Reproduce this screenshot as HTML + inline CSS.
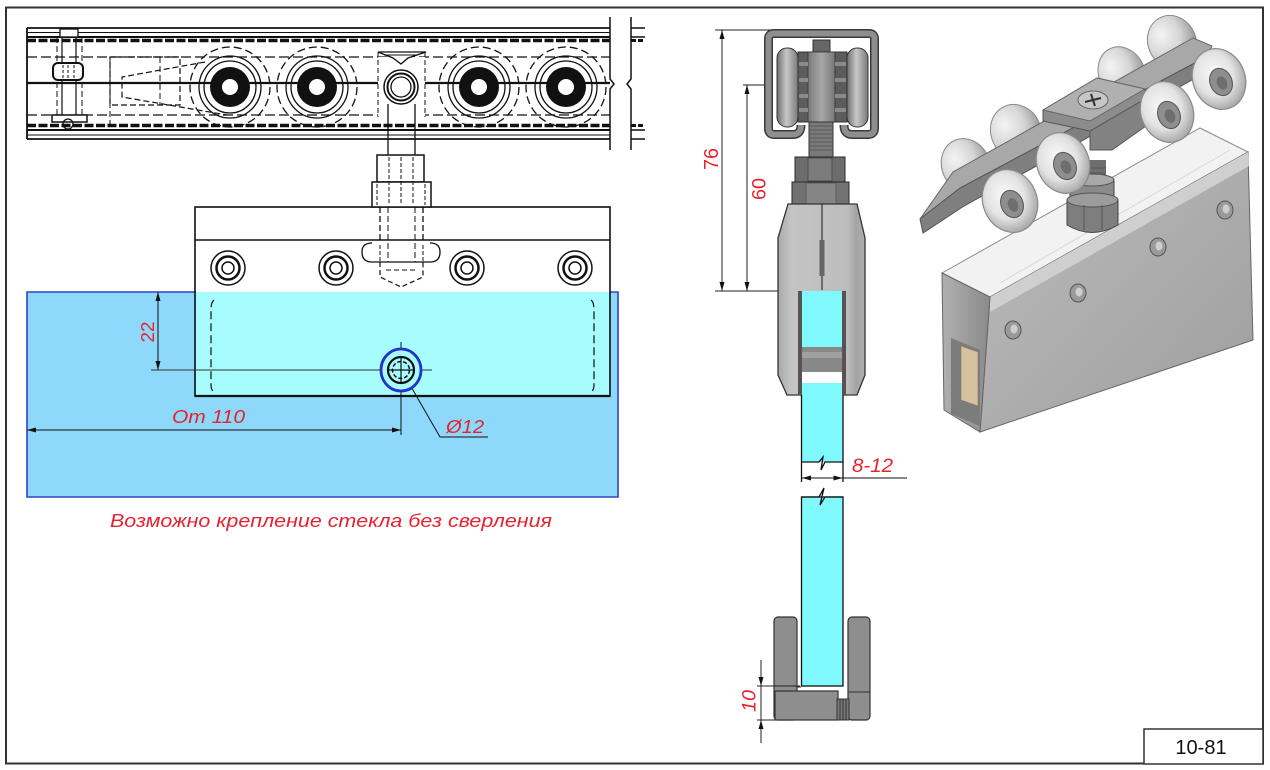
<!DOCTYPE html>
<html><head><meta charset="utf-8"><style>
html,body{margin:0;padding:0;background:#fff;}
svg{display:block;}
</style></head><body>
<svg width="1270" height="770" viewBox="0 0 1270 770" xmlns="http://www.w3.org/2000/svg">
<defs>
<radialGradient id="wheelG" cx="45%" cy="40%" r="60%">
<stop offset="0" stop-color="#fafafa"/><stop offset="0.6" stop-color="#e2e2e2"/><stop offset="1" stop-color="#a8a8a8"/>
</radialGradient>
<radialGradient id="backG" cx="35%" cy="30%" r="70%">
<stop offset="0" stop-color="#f4f4f4"/><stop offset="0.55" stop-color="#d6d6d6"/><stop offset="1" stop-color="#9a9a9a"/>
</radialGradient>
<linearGradient id="capG" x1="0" y1="0" x2="1" y2="0">
<stop offset="0" stop-color="#6e6e6e"/><stop offset="0.45" stop-color="#c8c8c8"/><stop offset="1" stop-color="#7a7a7a"/>
</linearGradient>
<linearGradient id="rollG" x1="0" y1="0" x2="1" y2="0">
<stop offset="0" stop-color="#7a7a7a"/><stop offset="0.5" stop-color="#a8a8a8"/><stop offset="1" stop-color="#777"/>
</linearGradient>
<linearGradient id="clampG" x1="0" y1="0" x2="1" y2="0">
<stop offset="0" stop-color="#a8a8a8"/><stop offset="0.15" stop-color="#c4c4c4"/><stop offset="0.8" stop-color="#bdbdbd"/><stop offset="0.9" stop-color="#a4a4a4"/><stop offset="1" stop-color="#b0b0b0"/>
</linearGradient>
<linearGradient id="frontG" x1="0" y1="0" x2="1" y2="1">
<stop offset="0" stop-color="#bcbcbc"/><stop offset="1" stop-color="#9e9e9e"/>
</linearGradient>
<linearGradient id="endG" x1="0" y1="0" x2="1" y2="0">
<stop offset="0" stop-color="#b0b0b0"/><stop offset="1" stop-color="#8a8a8a"/>
</linearGradient>
</defs>
<rect width="1270" height="770" fill="#fff"/>
<rect x="6" y="7.5" width="1257" height="756" fill="none" stroke="#333" stroke-width="2"/>

<!-- ============ LEFT: RAIL ============ -->
<g fill="none" stroke="#111">
<line x1="27" y1="28" x2="610" y2="28" stroke-width="1.8"/>
<line x1="27" y1="32.5" x2="610" y2="32.5" stroke-width="1"/>
<line x1="27" y1="37" x2="610" y2="37" stroke-width="2"/>
<line x1="27" y1="40.5" x2="610" y2="40.5" stroke-width="3.5" stroke-dasharray="9 2.5"/>
<line x1="27" y1="57" x2="610" y2="57" stroke-width="1.3" stroke-dasharray="10 4"/>
<line x1="27" y1="83" x2="610" y2="83" stroke-width="2.2"/>
<line x1="27" y1="115" x2="610" y2="115" stroke-width="1.3" stroke-dasharray="10 4"/>
<line x1="27" y1="125.5" x2="610" y2="125.5" stroke-width="3.5" stroke-dasharray="9 2.5"/>
<line x1="27" y1="130" x2="610" y2="130" stroke-width="2"/>
<line x1="27" y1="135" x2="610" y2="135" stroke-width="1"/>
<line x1="27" y1="139" x2="610" y2="139" stroke-width="1.8"/>
<line x1="27" y1="28" x2="27" y2="139" stroke-width="1.8"/>
<polyline points="610,17 610,79 614,84 610,89 610,150" stroke-width="1.5"/>
<polyline points="631,17 631,79 627,84 631,89 631,150" stroke-width="1.5"/>
<line x1="631" y1="28" x2="645" y2="28" stroke-width="1.5"/>
<line x1="631" y1="37" x2="645" y2="37" stroke-width="1.5"/>
<line x1="631" y1="40.5" x2="645" y2="40.5" stroke-width="3" stroke-dasharray="5 2"/>
<line x1="631" y1="125.5" x2="645" y2="125.5" stroke-width="3" stroke-dasharray="5 2"/>
<line x1="631" y1="130" x2="645" y2="130" stroke-width="1.5"/>
<line x1="631" y1="139" x2="645" y2="139" stroke-width="1.5"/>
<rect x="60" y="29" width="18" height="8" stroke-width="1.3" fill="#fff"/>
<line x1="57" y1="37" x2="57" y2="115" stroke-dasharray="6 3"/>
<line x1="82" y1="37" x2="82" y2="115" stroke-dasharray="6 3"/>
<line x1="62" y1="37" x2="62" y2="115" stroke-width="1.2"/>
<line x1="76" y1="37" x2="76" y2="115" stroke-width="1.2"/>
<rect x="53" y="63" width="30" height="17" rx="5" stroke-width="2" fill="#fff"/>
<line x1="63" y1="65" x2="63" y2="78" stroke-dasharray="3 2"/>
<line x1="68" y1="65" x2="68" y2="78" stroke-dasharray="3 2"/>
<line x1="74" y1="65" x2="74" y2="78" stroke-dasharray="3 2"/>
<rect x="52" y="115" width="35" height="7" stroke-width="1.5" fill="#fff"/>
<circle cx="68" cy="124" r="5" stroke-width="1.3"/>
<line x1="110" y1="57" x2="110" y2="130" stroke-dasharray="6 3"/>
<rect x="110" y="57" width="70" height="48" stroke-dasharray="6 3" stroke-width="1.2"/>
<line x1="160" y1="57" x2="160" y2="105" stroke-dasharray="6 3"/>
<polyline points="205,62 122,77 122,97 227,115" stroke-dasharray="6 3" stroke-width="1.2"/>
<g stroke-width="1.3">
<circle cx="230" cy="87" r="40" stroke-dasharray="8 4"/>
<circle cx="230" cy="87" r="31"/>
<circle cx="230" cy="87" r="26"/>
<circle cx="317" cy="87" r="40" stroke-dasharray="8 4"/>
<circle cx="317" cy="87" r="31"/>
<circle cx="317" cy="87" r="26"/>
<circle cx="479" cy="87" r="40" stroke-dasharray="8 4"/>
<circle cx="479" cy="87" r="31"/>
<circle cx="479" cy="87" r="26"/>
<circle cx="566" cy="87" r="40" stroke-dasharray="8 4"/>
<circle cx="566" cy="87" r="31"/>
<circle cx="566" cy="87" r="26"/>
</g>
<g fill="#111" stroke="none">
<circle cx="230" cy="87" r="20"/><circle cx="317" cy="87" r="20"/>
<circle cx="479" cy="87" r="20"/><circle cx="566" cy="87" r="20"/>
</g>
<g fill="#fff" stroke="none">
<circle cx="230" cy="87" r="8"/><circle cx="317" cy="87" r="8"/>
<circle cx="479" cy="87" r="8"/><circle cx="566" cy="87" r="8"/>
</g>
<rect x="378" y="57" width="47" height="60" fill="#fff" stroke="none"/>
<line x1="378" y1="52" x2="378" y2="117" stroke-dasharray="5 3"/>
<line x1="425" y1="52" x2="425" y2="117" stroke-dasharray="5 3"/>
<polygon points="378,52 426,52 408,58 401,64 393,58" stroke-width="1.3" fill="#fff"/>
<line x1="384" y1="55" x2="418" y2="55" stroke-width="1"/>
<circle cx="401" cy="87" r="17" stroke-width="1.5" fill="#fff"/>
<circle cx="401" cy="87" r="13.5" stroke-width="2"/>
<circle cx="401" cy="87" r="10" stroke-width="1.3"/>
<line x1="388" y1="104" x2="388" y2="155" stroke-width="1.3"/>
<line x1="415" y1="104" x2="415" y2="155" stroke-width="1.3"/>
</g>

<!-- ============ LEFT: GLASS / BLOCK ============ -->
<rect x="27" y="292" width="591" height="205" fill="#8ed8fb"/>
<rect x="196" y="292" width="413" height="103" fill="#a7fdfe"/>
<g stroke="#2f44c4" stroke-width="1.6" fill="none">
<polyline points="196,292 27,292 27,497 618,497 618,292 610,292"/>
</g>
<g fill="none" stroke="#111">
<rect x="195" y="207" width="415" height="189" stroke-width="1.6"/>
<line x1="195" y1="240" x2="610" y2="240" stroke-width="1.6"/>
<line x1="195" y1="396" x2="610" y2="396" stroke-width="2.2"/>
<rect x="377" y="155" width="47" height="27" stroke-width="1.5" fill="#fff"/>
<rect x="372" y="182" width="59" height="25" stroke-width="1.5" fill="#fff"/>
<g stroke-dasharray="4 2" stroke-width="1">
<line x1="389" y1="157" x2="389" y2="205"/><line x1="401" y1="157" x2="401" y2="205"/><line x1="413" y1="157" x2="413" y2="205"/>
<line x1="377" y1="184" x2="377" y2="205"/><line x1="425" y1="184" x2="425" y2="205"/>
</g>
<line x1="388" y1="207" x2="388" y2="262" stroke-dasharray="6 3"/>
<line x1="415" y1="207" x2="415" y2="262" stroke-dasharray="6 3"/>
<line x1="380" y1="207" x2="380" y2="240" stroke-dasharray="6 3" stroke-width="1.3"/>
<line x1="423" y1="207" x2="423" y2="240" stroke-dasharray="6 3" stroke-width="1.3"/>
<path d="M372,243 Q362,243 362,252 Q362,262 372,262 L430,262 Q440,262 440,252 Q440,243 430,243" stroke-width="1.3"/>
<path d="M380,245 L380,262 M423,245 L423,262" stroke-dasharray="4 2"/>
<polyline points="380,262 380,277 401,287 423,277 423,262" stroke-dasharray="5 3" stroke-width="1.2"/>
<line x1="386" y1="270" x2="417" y2="270" stroke-dasharray="5 3"/>
<g stroke-width="1.5">
<circle cx="228" cy="268" r="17"/><circle cx="228" cy="268" r="11.5" stroke-width="2.5"/><circle cx="228" cy="268" r="6"/>
<circle cx="336" cy="268" r="17"/><circle cx="336" cy="268" r="11.5" stroke-width="2.5"/><circle cx="336" cy="268" r="6"/>
<circle cx="467" cy="268" r="17"/><circle cx="467" cy="268" r="11.5" stroke-width="2.5"/><circle cx="467" cy="268" r="6"/>
<circle cx="575" cy="268" r="17"/><circle cx="575" cy="268" r="11.5" stroke-width="2.5"/><circle cx="575" cy="268" r="6"/>
</g>
<path d="M214,300 Q211,302 211,310 L211,385 Q211,390 214,392" stroke-dasharray="8 4" stroke-width="1.2"/>
<path d="M591,300 Q594,302 594,310 L594,385 Q594,390 591,392" stroke-dasharray="8 4" stroke-width="1.2"/>
<line x1="158" y1="292" x2="158" y2="370" stroke-width="1"/>
<line x1="151" y1="370" x2="432" y2="370" stroke-width="1" stroke="#333"/>
<line x1="401" y1="342" x2="401" y2="435" stroke-width="1"/>
<line x1="27" y1="430" x2="401" y2="430" stroke-width="1"/>
<polyline points="406,378 440,437 488,437" stroke-width="1"/>
</g>
<ellipse cx="401" cy="370" rx="20" ry="21" fill="#a7fdfe" stroke="#2233cc" stroke-width="2.8"/>
<circle cx="401" cy="370" r="13" fill="none" stroke="#111" stroke-width="2.2"/>
<circle cx="401" cy="370" r="8.5" fill="none" stroke="#111" stroke-width="1.5" stroke-dasharray="4 2"/>
<line x1="389" y1="370" x2="413" y2="370" stroke="#111" stroke-width="1.2"/>
<line x1="401" y1="358" x2="401" y2="382" stroke="#111" stroke-width="1.2"/>
<g fill="#111">
<polygon points="158,292 155.5,301 160.5,301"/>
<polygon points="158,370 155.5,361 160.5,361"/>
<polygon points="27,430 36,427.5 36,432.5"/>
<polygon points="401,430 392,427.5 392,432.5"/>
</g>
<g fill="#e62230" font-family="Liberation Sans, sans-serif">
<text transform="translate(148,332) rotate(-90)" text-anchor="middle" dominant-baseline="central" font-size="18" textLength="21" lengthAdjust="spacingAndGlyphs">22</text>
<text x="172" y="423" font-size="18.5" font-style="italic" textLength="73" lengthAdjust="spacingAndGlyphs">От 110</text>
<text x="446" y="433" font-size="18.5" font-style="italic" textLength="38" lengthAdjust="spacingAndGlyphs">Ø12</text>
<text x="110" y="527" font-size="18" font-style="italic" textLength="442" lengthAdjust="spacingAndGlyphs">Возможно крепление стекла без сверления</text>
</g>

<!-- ============ MIDDLE: SECTION ============ -->
<g stroke="#222" stroke-width="1" fill="none">
<line x1="715" y1="30" x2="773" y2="30"/>
<line x1="722" y1="30" x2="722" y2="291"/>
<line x1="743" y1="85" x2="767" y2="85"/>
<line x1="747" y1="85" x2="747" y2="291"/>
<line x1="715" y1="291" x2="800" y2="291"/>
</g>
<g fill="#111">
<polygon points="722,30 719.5,39 724.5,39"/>
<polygon points="722,291 719.5,282 724.5,282"/>
<polygon points="747,85 744.5,94 749.5,94"/>
<polygon points="747,291 744.5,282 749.5,282"/>
</g>
<path d="M801,125 Q801,134.5 793,134.5 L774,134.5 Q768.5,134.5 768.5,128 L768.5,39 Q768.5,33.5 774,33.5 L869,33.5 Q874.5,33.5 874.5,39 L874.5,128 Q874.5,134.5 868,134.5 L852,134.5 Q844,134.5 844,125" fill="none" stroke="#3a3a3a" stroke-width="9"/>
<path d="M801,125 Q801,134.5 793,134.5 L774,134.5 Q768.5,134.5 768.5,128 L768.5,39 Q768.5,33.5 774,33.5 L869,33.5 Q874.5,33.5 874.5,39 L874.5,128 Q874.5,134.5 868,134.5 L852,134.5 Q844,134.5 844,125" fill="none" stroke="#8e8e8e" stroke-width="6"/>
<rect x="813" y="40" width="17" height="12" fill="#666" stroke="#333"/>
<rect x="798" y="52" width="49" height="70" fill="#5c5c5c" stroke="#333"/>
<rect x="808" y="52" width="27" height="70" fill="url(#rollG)" stroke="#333" stroke-width="0.8"/>
<g fill="#8a8a8a">
<rect x="799" y="62" width="9" height="4"/><rect x="799" y="78" width="9" height="4"/><rect x="799" y="94" width="9" height="4"/><rect x="799" y="108" width="9" height="4"/>
<rect x="835" y="62" width="11" height="4"/><rect x="835" y="78" width="11" height="4"/><rect x="835" y="94" width="11" height="4"/><rect x="835" y="108" width="11" height="4"/>
</g>
<rect x="777" y="48" width="21" height="79" rx="10" fill="url(#capG)" stroke="#333"/>
<rect x="847" y="48" width="21" height="79" rx="10" fill="url(#capG)" stroke="#333"/>
<rect x="809" y="122" width="24" height="35" fill="#7a7a7a" stroke="#333"/>
<g stroke="#5a5a5a" stroke-width="1">
<line x1="810" y1="126" x2="832" y2="126"/><line x1="810" y1="130" x2="832" y2="130"/><line x1="810" y1="134" x2="832" y2="134"/><line x1="810" y1="138" x2="832" y2="138"/><line x1="810" y1="142" x2="832" y2="142"/><line x1="810" y1="146" x2="832" y2="146"/><line x1="810" y1="150" x2="832" y2="150"/>
</g>
<rect x="795" y="157" width="50" height="25" fill="#6c6c6c" stroke="#2a2a2a"/>
<rect x="808" y="158" width="24" height="23" fill="#7c7c7c" stroke="#444" stroke-width="0.8"/>
<rect x="792" y="182" width="57" height="23" fill="#727272" stroke="#2a2a2a"/>
<rect x="806" y="183" width="30" height="21" fill="#858585" stroke="#555" stroke-width="0.8"/>
<path d="M788,204 L857,204 L865,238 L865,375 L857,395 L787,395 L778,375 L778,238 Z" fill="url(#clampG)" stroke="#333" stroke-width="1.3"/>
<line x1="822" y1="204" x2="822" y2="290" stroke="#333" stroke-width="1.2"/>
<rect x="819.5" y="240" width="5" height="36" fill="#666"/>
<rect x="798" y="291" width="48" height="104" fill="#5a5252"/>
<rect x="802" y="291" width="40" height="56" fill="#80f9fd"/>
<rect x="802" y="347" width="40" height="25" fill="#888"/>
<rect x="802" y="352" width="40" height="6" fill="#a0a0a0"/>
<rect x="802" y="372" width="40" height="11" fill="#fff"/>
<rect x="802" y="383" width="40" height="12" fill="#80f9fd"/>
<rect x="801.5" y="395" width="41.5" height="67" fill="#80f9fd"/>
<g stroke="#111" stroke-width="1.3" fill="none">
<line x1="801.5" y1="395" x2="801.5" y2="482"/>
<line x1="843" y1="395" x2="843" y2="482"/>
<polyline points="801.5,462 819,462 823,457 821,470 825,462 843,462"/>
<line x1="843" y1="478" x2="907" y2="478" stroke-width="1"/>
<line x1="801.5" y1="478" x2="843" y2="478" stroke-width="1"/>
</g>
<g fill="#111">
<polygon points="802,478 811,475.5 811,480.5"/>
<polygon points="842.5,478 833.5,475.5 833.5,480.5"/>
</g>
<rect x="801.5" y="497" width="41.5" height="189" fill="#80f9fd" stroke="#111" stroke-width="1.3"/>
<rect x="805" y="497.8" width="35" height="2" fill="#80f9fd"/>
<polyline points="801.5,497 819,497 824,488 820,505 825,497 843,497" fill="none" stroke="#111" stroke-width="1.3"/>
<rect x="774" y="617" width="23" height="103" rx="4" fill="#8e8e8e" stroke="#333" stroke-width="1.2"/>
<rect x="848" y="617" width="22" height="103" rx="4" fill="#8e8e8e" stroke="#333" stroke-width="1.2"/>
<rect x="775" y="691" width="63" height="29" fill="#8e8e8e" stroke="#333" stroke-width="1.2"/>
<rect x="837" y="699" width="12" height="21" fill="#7a7a7a" stroke="#333" stroke-width="1"/>
<g stroke="#333" stroke-width="1">
<line x1="840" y1="699" x2="840" y2="720"/><line x1="843" y1="699" x2="843" y2="720"/><line x1="846" y1="699" x2="846" y2="720"/>
<line x1="849" y1="692" x2="870" y2="692"/>
<line x1="797" y1="687" x2="801" y2="687"/>
</g>
<g stroke="#222" stroke-width="1">
<line x1="761" y1="660" x2="761" y2="743"/>
<line x1="757" y1="686" x2="800" y2="686"/>
<line x1="757" y1="720" x2="775" y2="720"/>
</g>
<g fill="#111">
<polygon points="761,686 758.5,677 763.5,677"/>
<polygon points="761,720 758.5,729 763.5,729"/>
</g>
<g fill="#e62230" font-family="Liberation Sans, sans-serif">
<text transform="translate(712,159) rotate(-90)" text-anchor="middle" dominant-baseline="central" font-size="20" textLength="22" lengthAdjust="spacingAndGlyphs">76</text>
<text transform="translate(760,189) rotate(-90)" text-anchor="middle" dominant-baseline="central" font-size="19" textLength="22" lengthAdjust="spacingAndGlyphs">60</text>
<text x="852" y="472" font-size="19" font-style="italic" textLength="41" lengthAdjust="spacingAndGlyphs">8-12</text>
<text transform="translate(750,701) rotate(-90)" text-anchor="middle" dominant-baseline="central" font-size="19" font-style="italic" textLength="22" lengthAdjust="spacingAndGlyphs">10</text>
</g>

<!-- ============ RIGHT: 3D VIEW ============ -->
<polygon points="942,273 1200,128 1248,152 990,297" fill="#f2f2f2" stroke="#8a8a8a" stroke-width="1"/>
<line x1="1000" y1="283" x2="1230" y2="150" stroke="#d8d8d8" stroke-width="1"/>
<polygon points="990,297 1248,152 1253,340 980,432" fill="url(#frontG)" stroke="#666" stroke-width="1"/>
<polygon points="990,297 1248,152 1249,166 990,312" fill="#cfcfcf"/>
<polygon points="942,273 990,297 980,432 944,410" fill="url(#endG)" stroke="#666" stroke-width="1"/>
<polygon points="951,338 980,350 980,426 951,414" fill="#7c7c7c"/>
<polygon points="961,346 978,352 978,406 961,400" fill="#d4c1a0" stroke="#8a7a60" stroke-width="0.6"/>
<g fill="#9a9a9a" stroke="#555" stroke-width="1">
<ellipse cx="1225" cy="210" rx="8" ry="9"/><ellipse cx="1158" cy="247" rx="8" ry="9"/>
<ellipse cx="1078" cy="293" rx="8" ry="9"/><ellipse cx="1013" cy="330" rx="8" ry="9"/>
</g>
<g fill="#cfcfcf">
<ellipse cx="1226" cy="209" rx="3.5" ry="4.5"/><ellipse cx="1159" cy="246" rx="3.5" ry="4.5"/>
<ellipse cx="1079" cy="292" rx="3.5" ry="4.5"/><ellipse cx="1014" cy="329" rx="3.5" ry="4.5"/>
</g>
<!-- back wheels -->
<g fill="url(#backG)" stroke="#8a8a8a" stroke-width="1">
<ellipse cx="966" cy="166" rx="24" ry="28" transform="rotate(-25 966 166)"/>
<ellipse cx="1016" cy="132" rx="25" ry="28" transform="rotate(-25 1016 132)"/>
<ellipse cx="1122" cy="74" rx="23" ry="28" transform="rotate(-25 1122 74)"/>
<ellipse cx="1172" cy="42" rx="24" ry="27" transform="rotate(-25 1172 42)"/>
</g>
<!-- nut -->
<rect x="1080" y="160" width="26" height="25" fill="#6e6e6e"/>
<g stroke="#555" stroke-width="1"><line x1="1080" y1="168" x2="1106" y2="168"/><line x1="1080" y1="173" x2="1106" y2="173"/><line x1="1080" y1="178" x2="1106" y2="178"/></g>
<path d="M1070,180 L1114,180 L1114,198 L1070,198 Z" fill="#8a8a8a" stroke="#444"/>
<ellipse cx="1092" cy="180" rx="22" ry="6" fill="#a8a8a8" stroke="#555"/>
<path d="M1067,200 L1118,200 L1118,225 Q1092,240 1067,225 Z" fill="#7e7e7e" stroke="#444"/>
<ellipse cx="1092.5" cy="200" rx="25.5" ry="7" fill="#9c9c9c" stroke="#555"/>
<line x1="1084" y1="205" x2="1084" y2="230" stroke="#555"/><line x1="1102" y1="205" x2="1102" y2="230" stroke="#555"/>
<!-- bar -->
<polygon points="920,219 953,172 1193,38 1212,46 1206,57 960,188" fill="#a8a8a8" stroke="#666" stroke-width="1"/>
<polygon points="920,219 960,188 1206,57 1210,70 964,206 923,233" fill="#7f7f7f" stroke="#555" stroke-width="1"/>
<polygon points="1090,128 1146,98 1146,126 1112,150 1090,150" fill="#828282" stroke="#555" stroke-width="1"/>
<polygon points="1043,110 1097,78 1145,89 1145,99 1090,131 1043,121" fill="#8c8c8c" stroke="#555" stroke-width="1"/>
<polygon points="1043,110 1097,78 1145,89 1090,121" fill="#b0b0b0" stroke="#666" stroke-width="1"/>
<ellipse cx="1093" cy="100" rx="15" ry="9" fill="#c6c6c6" stroke="#666"/>
<line x1="1085" y1="102" x2="1101" y2="98" stroke="#333" stroke-width="2"/>
<line x1="1091" y1="94" x2="1095" y2="106" stroke="#333" stroke-width="2"/>
<!-- front wheels -->
<g fill="url(#wheelG)" stroke="#8a8a8a" stroke-width="1.2">
<ellipse cx="1010" cy="201" rx="27" ry="32" transform="rotate(-22 1010 201)"/>
<ellipse cx="1063" cy="163" rx="26" ry="31" transform="rotate(-22 1063 163)"/>
<ellipse cx="1167" cy="112" rx="26" ry="31" transform="rotate(-22 1167 112)"/>
<ellipse cx="1219" cy="79" rx="26" ry="31" transform="rotate(-22 1219 79)"/>
</g>
<g fill="#8e8e8e" stroke="#555" stroke-width="1">
<ellipse cx="1012" cy="204" rx="11" ry="14" transform="rotate(-22 1012 204)"/>
<ellipse cx="1065" cy="166" rx="11" ry="14" transform="rotate(-22 1065 166)"/>
<ellipse cx="1169" cy="115" rx="11" ry="14" transform="rotate(-22 1169 115)"/>
<ellipse cx="1221" cy="82" rx="11" ry="14" transform="rotate(-22 1221 82)"/>
</g>
<g fill="#6e6e6e">
<ellipse cx="1013" cy="205" rx="5" ry="7" transform="rotate(-22 1013 205)"/>
<ellipse cx="1066" cy="167" rx="5" ry="7" transform="rotate(-22 1066 167)"/>
<ellipse cx="1170" cy="116" rx="5" ry="7" transform="rotate(-22 1170 116)"/>
<ellipse cx="1222" cy="83" rx="5" ry="7" transform="rotate(-22 1222 83)"/>
</g>

<!-- title block -->
<rect x="1144" y="729" width="119" height="35" fill="#fff" stroke="#333" stroke-width="1.5"/>
<text x="1201" y="754" text-anchor="middle" font-family="Liberation Sans, sans-serif" font-size="20" fill="#111">10-81</text>
</svg>
</body></html>
